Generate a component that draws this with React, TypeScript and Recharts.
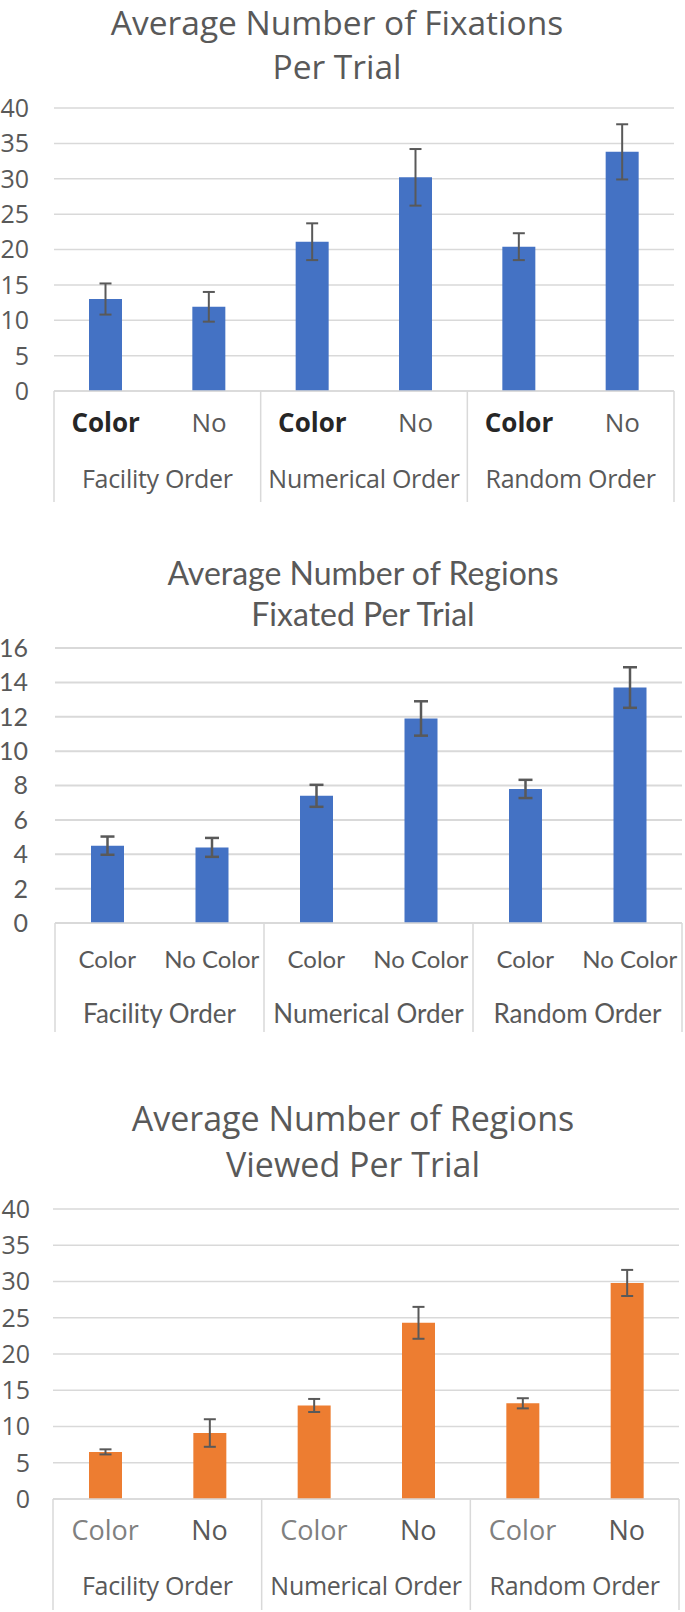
import React from "react"
import { BarChart, Bar, XAxis, YAxis, CartesianGrid, ErrorBar } from "recharts"

// categories (two-level axis)
const groups = ["Facility Order", "Facility Order", "Numerical Order", "Numerical Order", "Random Order", "Random Order"]
const subShort = ["Color", "No", "Color", "No", "Color", "No"]
const subLong = ["Color", "No Color", "Color", "No Color", "Color", "No Color"]

// series values
const fixations = [13.0, 11.9, 21.1, 30.2, 20.4, 33.8]
const fixationsErr = [2.2, 2.1, 2.6, 4.0, 1.9, 3.9]
const regionsFixated = [4.5, 4.4, 7.4, 11.9, 7.8, 13.7]
const regionsFixatedErr = [0.53, 0.55, 0.64, 1.0, 0.53, 1.18]
const regionsViewed = [6.5, 9.1, 12.9, 24.3, 13.2, 29.8]
const regionsViewedErr = [0.35, 1.9, 0.9, 2.2, 0.7, 1.8]

// tick labels
const ticks40 = [0, 5, 10, 15, 20, 25, 30, 35, 40]
const ticks16 = [0, 2, 4, 6, 8, 10, 12, 14, 16]

const BLUE = "#4472C4"
const ORANGE = "#ED7D31"
const GRID = "#D9D9D9"
const TEXT = "#595959"

const buildRows = (sub: string[], values: number[], errs: number[]) =>
  values.map((v, i) => ({ group: groups[i], sub: sub[i], value: v, err: errs[i] }))

type Cfg = {
  title: string[]
  titleFont: string
  titleSize: number
  titleLine: number
  titleTop: number
  titleCenter: number
  font: string
  top: number
  plotTop: number
  plotH: number
  left: number
  right: number
  subH: number
  groupH: number
  subDy: number
  groupDy: number
  subSize: number
  groupSize: number
  groupSpacing: number
  yTickSize: number
  yTickMargin: number
  boldColor?: boolean
  colorFill?: string
  gridWidth: number
  errWidth: number
  errHalf: number
  color: string
  ticks: number[]
  rows: { group: string; sub: string; value: number; err: number }[]
}

const SubTick = (props: any) => {
  const { x, y, payload, cfg } = props
  const label = payload.value as string
  const bold = cfg.boldColor && label === "Color"
  let fill = TEXT
  if (bold) fill = "#262626"
  if (cfg.colorFill && label === "Color") fill = cfg.colorFill
  return (
    <text
      x={x}
      y={y + cfg.subDy}
      textAnchor="middle"
      fontFamily={cfg.font}
      fontSize={cfg.subSize}
      fontWeight={bold ? 700 : 400}
      fill={fill}
    >
      {label}
    </text>
  )
}

// second axis row: group names plus the vertical dividers of the category box
const GroupTick = (props: any) => {
  const { x, y, payload, index, cfg } = props
  const plotW = 685 - cfg.left - cfg.right
  const half = payload.offset || plotW / 6
  const y1 = y - cfg.subH
  const y2 = y + cfg.groupH
  return (
    <g>
      {index === 0 && <line x1={x - half} x2={x - half} y1={y1} y2={y2} stroke={GRID} strokeWidth={1.5} />}
      <line x1={x + half} x2={x + half} y1={y1} y2={y2} stroke={GRID} strokeWidth={1.5} />
      <text
        x={x}
        y={y + cfg.groupDy}
        textAnchor="middle"
        fontFamily={cfg.font}
        fontSize={cfg.groupSize}
        letterSpacing={cfg.groupSpacing}
        fill={TEXT}
      >
        {payload.value}
      </text>
    </g>
  )
}

function ExcelBars({ cfg }: { cfg: Cfg }) {
  const height = cfg.plotTop + cfg.plotH + cfg.subH + cfg.groupH
  const max = cfg.ticks[cfg.ticks.length - 1]
  return (
    <>
      <div
        style={{
          position: "absolute",
          top: cfg.titleTop,
          left: cfg.titleCenter,
          transform: "translateX(-50%)",
          whiteSpace: "nowrap",
          textAlign: "center",
          fontFamily: cfg.titleFont,
          fontSize: cfg.titleSize,
          lineHeight: `${cfg.titleLine}px`,
          color: TEXT,
        }}
      >
        {cfg.title.map((t) => (
          <div key={t}>{t}</div>
        ))}
      </div>
      <div style={{ position: "absolute", top: cfg.top, left: 0 }}>
        <BarChart
          width={685}
          height={height}
          data={cfg.rows}
          margin={{ top: cfg.plotTop, right: cfg.right, bottom: 0, left: 0 }}
        >
          <CartesianGrid vertical={false} stroke={GRID} strokeWidth={cfg.gridWidth} />
          <XAxis
            xAxisId="b"
            dataKey="group"
            allowDuplicatedCategory={false}
            height={cfg.groupH}
            tickLine={false}
            tickSize={0}
            tickMargin={0}
            axisLine={false}
            interval={0}
            tick={(p: any) => <GroupTick {...p} cfg={cfg} />}
          />
          <XAxis
            xAxisId="a"
            dataKey="sub"
            height={cfg.subH}
            tickLine={false}
            tickSize={0}
            tickMargin={0}
            axisLine={{ stroke: GRID, strokeWidth: 1.5 }}
            interval={0}
            tick={(p: any) => <SubTick {...p} cfg={cfg} />}
          />
          <YAxis
            width={cfg.left}
            domain={[0, max]}
            ticks={cfg.ticks}
            interval={0}
            tickLine={false}
            axisLine={false}
            tickSize={0}
            tickMargin={cfg.yTickMargin}
            tick={{ fontFamily: cfg.font, fontSize: cfg.yTickSize, fill: TEXT }}
          />
          <Bar xAxisId="a" dataKey="value" fill={cfg.color} barSize={33} isAnimationActive={false}>
            <ErrorBar dataKey="err" direction="y" width={cfg.errHalf} stroke="#595959" strokeWidth={cfg.errWidth} />
          </Bar>
        </BarChart>
      </div>
    </>
  )
}

const chart1: Cfg = {
  title: ["Average Number of Fixations", "Per Trial"],
  titleFont: "'Open Sans', sans-serif",
  titleSize: 33.5,
  titleLine: 44,
  titleTop: 0,
  titleCenter: 337,
  font: "'Open Sans', sans-serif",
  top: 0,
  plotTop: 108,
  plotH: 283,
  left: 54,
  right: 11,
  subH: 56,
  groupH: 55,
  subDy: 41,
  groupDy: 41,
  subSize: 26,
  groupSize: 25,
  groupSpacing: -0.3,
  yTickSize: 25,
  yTickMargin: 25,
  boldColor: true,
  gridWidth: 1.5,
  errWidth: 2,
  errHalf: 6,
  color: BLUE,
  ticks: ticks40,
  rows: buildRows(subShort, fixations, fixationsErr),
}

const chart2: Cfg = {
  title: ["Average Number of Regions", "Fixated Per Trial"],
  titleFont: "Lato, sans-serif",
  titleSize: 32,
  titleLine: 41,
  titleTop: 552,
  titleCenter: 363,
  font: "Lato, sans-serif",
  top: 540,
  plotTop: 108,
  plotH: 275,
  left: 55,
  right: 3,
  subH: 55,
  groupH: 54,
  subDy: 45,
  groupDy: 45,
  subSize: 24,
  groupSize: 26,
  groupSpacing: 0,
  yTickSize: 25,
  yTickMargin: 27,
  gridWidth: 2,
  errWidth: 2.5,
  errHalf: 7,
  color: BLUE,
  ticks: ticks16,
  rows: buildRows(subLong, regionsFixated, regionsFixatedErr),
}

const chart3: Cfg = {
  title: ["Average Number of Regions", "Viewed Per Trial"],
  titleFont: "'Open Sans', sans-serif",
  titleSize: 34,
  titleLine: 46,
  titleTop: 1095,
  titleCenter: 353,
  font: "'Open Sans', sans-serif",
  top: 1100,
  plotTop: 109,
  plotH: 290,
  left: 53,
  right: 6,
  subH: 56,
  groupH: 55,
  subDy: 41,
  groupDy: 40,
  subSize: 27,
  groupSize: 25,
  groupSpacing: -0.3,
  yTickSize: 25,
  yTickMargin: 23,
  colorFill: "#808080",
  gridWidth: 1.5,
  errWidth: 2,
  errHalf: 6,
  color: ORANGE,
  ticks: ticks40,
  rows: buildRows(subShort, regionsViewed, regionsViewedErr),
}

export default function App() {
  return (
    <div style={{ position: "relative", width: 685, height: 1612, background: "#fff", overflow: "hidden" }}>
      <style>{"body{margin:0}"}</style>
      <ExcelBars cfg={chart1} />
      <ExcelBars cfg={chart2} />
      <ExcelBars cfg={chart3} />
    </div>
  )
}
